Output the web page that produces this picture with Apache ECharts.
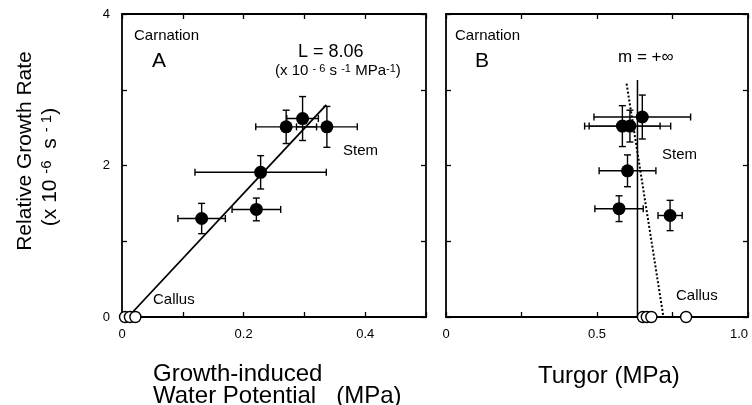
<!DOCTYPE html>
<html><head><meta charset="utf-8">
<script src="https://cdn.jsdelivr.net/npm/echarts@6/dist/echarts.min.js"></script>
<style>html,body{margin:0;padding:0;background:#fff}#c{width:752px;height:405px}</style>
</head><body><div id="c"></div>
<script>
// Panel A: growth-induced water potential vs relative growth rate (stem)
const stemA_x = [0.270, 0.297, 0.337, 0.228, 0.131, 0.221];
const stemA_y = [2.51, 2.62, 2.51, 1.91, 1.30, 1.42];
const stemA_xerr = [0.05, 0.026, 0.05, 0.108, 0.039, 0.04];
const stemA_yerr = [0.22, 0.29, 0.27, 0.22, 0.20, 0.15];
const callusA_x = [0.005, 0.013, 0.022];
const callusA_y = [0, 0, 0];
const fitA_x = [0.01, 0.336];
const fitA_y = [0.0, 2.80];
// Panel B: turgor vs relative growth rate
const stemB_x = [0.584, 0.609, 0.650, 0.601, 0.573, 0.742];
const stemB_y = [2.52, 2.52, 2.64, 1.93, 1.43, 1.34];
const stemB_xerr = [0.125, 0.135, 0.16, 0.094, 0.08, 0.04];
const stemB_yerr = [0.27, 0.21, 0.29, 0.21, 0.17, 0.20];
const callusB_x = [0.652, 0.665, 0.680, 0.795];
const callusB_y = [0, 0, 0, 0];
const vertB_x = [0.634, 0.634];
const vertB_y = [0, 3.13];
const dotB_x = [0.598, 0.720];
const dotB_y = [3.08, 0];
const xTicksA = ['0', '0.2', '0.4'];
const xTicksB = ['0', '0.5', '1.0'];
const yTicks = ['0', '2', '4'];

const FONT = 'Liberation Sans, Arial, Helvetica, sans-serif';
const zip = (a, b) => a.map((v, i) => [v, b[i]]);
const zip4 = (a, b, c, d) => a.map((v, i) => [v, b[i], c[i], d[i]]);

function errRender(params, api) {
  const x = api.value(0), y = api.value(1), xe = api.value(2), ye = api.value(3);
  const l = api.coord([x - xe, y]), r = api.coord([x + xe, y]);
  const t = api.coord([x, y + ye]), b = api.coord([x, y - ye]);
  const c = 3.5;
  const st = { stroke: '#000', lineWidth: 1.4 };
  const ln = (x1, y1, x2, y2) => ({ type: 'line', shape: { x1, y1, x2, y2 }, style: st });
  return { type: 'group', children: [
    ln(l[0], l[1], r[0], r[1]), ln(l[0], l[1] - c, l[0], l[1] + c), ln(r[0], r[1] - c, r[0], r[1] + c),
    ln(t[0], t[1], b[0], b[1]), ln(t[0] - c, t[1], t[0] + c, t[1]), ln(b[0] - c, b[1], b[0] + c, b[1])
  ]};
}

const axLine = { show: true, onZero: false, lineStyle: { color: '#000', width: 1.8 } };
const tick = { show: true, inside: true, length: 5, lineStyle: { color: '#000', width: 1.3 } };
const lbl = { color: '#000', fontSize: 13, fontFamily: FONT, margin: 11 };

function xAx(gi, interval, labels, map) {
  const mx = gi === 0 ? 0.5 : 1;
  return [
    { gridIndex: gi, type: 'value', min: 0, max: mx, interval, position: 'bottom',
      axisLine: axLine, axisTick: tick, splitLine: { show: false },
      axisLabel: Object.assign({}, lbl, { formatter: v => map(v, labels), alignMaxLabel: gi === 1 ? 'right' : null }) },
    { gridIndex: gi, type: 'value', min: 0, max: mx, interval, position: 'top',
      axisLine: axLine, axisTick: tick, splitLine: { show: false }, axisLabel: { show: false } }
  ];
}
function yAx(gi, showLabels) {
  return [
    { gridIndex: gi, type: 'value', min: 0, max: 4, interval: 1, position: 'left',
      axisLine: axLine, axisTick: tick, splitLine: { show: false },
      axisLabel: Object.assign({}, lbl, { show: showLabels, margin: 12,
        formatter: v => (Math.round(v) % 2 === 0 ? yTicks[Math.round(v) / 2] : '') }) },
    { gridIndex: gi, type: 'value', min: 0, max: 4, interval: 1, position: 'right',
      axisLine: axLine, axisTick: tick, splitLine: { show: false }, axisLabel: { show: false } }
  ];
}
const mapA = (v, L) => { const k = Math.round(v * 10); return k % 2 === 0 ? L[k / 2] : ''; };
const mapB = (v, L) => { const k = Math.round(v * 4); return k % 2 === 0 ? L[k / 2] : ''; };

const txt = (x, y, text, size, extra) => ({ type: 'text', x, y,
  style: Object.assign({ text, font: size + 'px ' + FONT, fill: '#000', textAlign: 'left', textVerticalAlign: 'middle' }, extra || {}) });

const supRich = {
  n: { fontSize: 15, fontFamily: FONT, color: '#000' },
  s: { fontSize: 11, fontFamily: FONT, color: '#000', verticalAlign: 'top' }
};
const supRichBig = {
  n: { fontSize: 21, fontFamily: FONT, color: '#000' },
  s: { fontSize: 15, fontFamily: FONT, color: '#000', verticalAlign: 'top' }
};

const option = {
  animation: false,
  grid: [
    { left: 122, top: 14, width: 304, height: 303, outerBoundsMode: 'none', containLabel: false },
    { left: 446, top: 14, width: 302, height: 303, outerBoundsMode: 'none', containLabel: false }
  ],
  xAxis: [...xAx(0, 0.1, xTicksA, mapA), ...xAx(1, 0.25, xTicksB, mapB)],
  yAxis: [...yAx(0, true), ...yAx(1, false)],
  series: [
    { type: 'line', xAxisIndex: 0, yAxisIndex: 0, data: zip(fitA_x, fitA_y), showSymbol: false, symbol: 'none',
      lineStyle: { color: '#000', width: 1.8 }, z: 2 },
    { type: 'custom', xAxisIndex: 0, yAxisIndex: 0, data: zip4(stemA_x, stemA_y, stemA_xerr, stemA_yerr),
      renderItem: errRender, encode: { x: 0, y: 1 }, z: 3 },
    { type: 'scatter', xAxisIndex: 0, yAxisIndex: 0, data: zip(stemA_x, stemA_y), symbolSize: 13,
      itemStyle: { color: '#000', opacity: 1 }, z: 4 },
    { type: 'scatter', xAxisIndex: 0, yAxisIndex: 0, data: zip(callusA_x, callusA_y), symbolSize: 11,
      itemStyle: { color: '#fff', borderColor: '#000', borderWidth: 1.4, opacity: 1 }, z: 4, clip: false },
    { type: 'line', xAxisIndex: 2, yAxisIndex: 2, data: zip(vertB_x, vertB_y), showSymbol: false, symbol: 'none',
      lineStyle: { color: '#000', width: 1.5 }, z: 2 },
    { type: 'line', xAxisIndex: 2, yAxisIndex: 2, data: zip(dotB_x, dotB_y), showSymbol: false, symbol: 'none',
      lineStyle: { color: '#000', width: 2, type: [2, 2] }, z: 2 },
    { type: 'custom', xAxisIndex: 2, yAxisIndex: 2, data: zip4(stemB_x, stemB_y, stemB_xerr, stemB_yerr),
      renderItem: errRender, encode: { x: 0, y: 1 }, z: 3 },
    { type: 'scatter', xAxisIndex: 2, yAxisIndex: 2, data: zip(stemB_x, stemB_y), symbolSize: 13,
      itemStyle: { color: '#000', opacity: 1 }, z: 4 },
    { type: 'scatter', xAxisIndex: 2, yAxisIndex: 2, data: zip(callusB_x, callusB_y), symbolSize: 11,
      itemStyle: { color: '#fff', borderColor: '#000', borderWidth: 1.4, opacity: 1 }, z: 4, clip: false }
  ],
  graphic: [
    txt(134, 36, 'Carnation', 15),
    txt(152, 61, 'A', 21),
    txt(298, 52, 'L = 8.06', 18),
    { type: 'text', x: 275, y: 71, style: { text: '(x 10 {s|- 6} s {s|-1} MPa{s|-1})', rich: supRich,
      font: '15px ' + FONT, fill: '#000', textAlign: 'left', textVerticalAlign: 'middle' } },
    txt(343, 151, 'Stem', 15),
    txt(153, 300, 'Callus', 15),
    txt(455, 36, 'Carnation', 15),
    txt(475, 61, 'B', 21),
    txt(618, 57, 'm = +\u221E', 17),
    txt(662, 155, 'Stem', 15),
    txt(676, 296, 'Callus', 15),
    { type: 'text', x: 25, y: 151, rotation: Math.PI / 2,
      style: { text: 'Relative Growth Rate', font: '21px ' + FONT, fill: '#000', textAlign: 'center', textVerticalAlign: 'middle' } },
    { type: 'text', x: 50, y: 167, rotation: Math.PI / 2,
      style: { text: '(x 10 {s|-6}  s {s|- 1})', rich: supRichBig, font: '21px ' + FONT, fill: '#000', textAlign: 'center', textVerticalAlign: 'middle' } },
    txt(153, 374, 'Growth-induced', 24),
    txt(153, 396, 'Water Potential   (MPa)', 24),
    txt(538, 376, 'Turgor (MPa)', 24)
  ]
};
echarts.init(document.getElementById('c'), null, { renderer: 'canvas' }).setOption(option);
</script></body></html>
